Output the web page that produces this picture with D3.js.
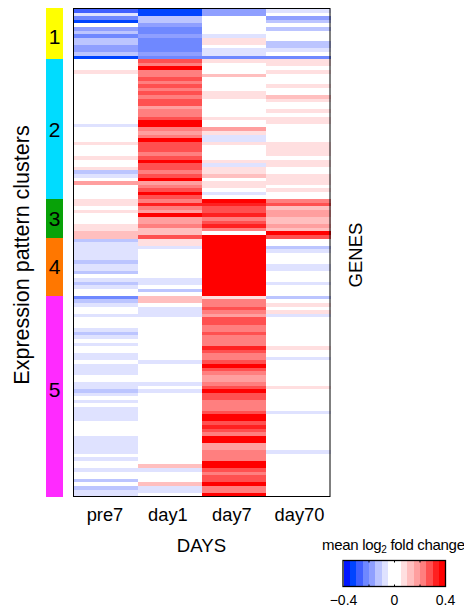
<!DOCTYPE html>
<html><head><meta charset="utf-8">
<script src="https://cdn.jsdelivr.net/npm/d3@7/dist/d3.min.js"></script>
<style>html,body{margin:0;padding:0;background:#fff}svg{display:block}text{font-family:"Liberation Sans",Arial,sans-serif;fill:#000}</style>
</head><body><svg id="c" width="464" height="609"></svg>
<script>
const days = ["pre7","day1","day7","day70"];
const clusterNames = ["1","2","3","4","5"];
const clusterSizes = [14,39,11,16,56];
const clusterColors = ["#ffff00","#00dcff","#08a208","#ff7700","#ff2aff"];
const legendColors = ["#0016ff","#0044ff","#4060ff","#6f88ff","#8f9fff","#bcc5ff","#dfe2ff","#ffffff","#ffffff","#ffdfe0","#ffbfbf","#ff9f9f","#ff7f7f","#ff5050","#ff2020","#ff0000"];
const legendTickLabels = [-0.4,0,0.4];
const legendInnerTicks = [-0.2,0,0.2];

const pre7 = [
-.28,-.08,-.23,-.33,0,-.18,-.13,-.23,-.13,-.13,-.18,-.18,-.13,-.33,
0,0,0,.08,0,0,0,0,0,0,0,0,0,0,0,0,0,0,-.08,0,0,0,0,.08,0,0,0,.08,0,0,.08,-.13,-.08,0,.18,0,0,0,0,
.08,.08,0,.08,0,0,0,.08,.08,.13,.13,
-.13,-.08,-.08,-.08,-.08,-.08,-.13,-.08,-.08,-.13,0,-.08,-.13,-.08,0,0,
-.23,-.13,-.08,0,0,-.08,0,0,0,-.08,-.13,-.08,0,-.08,0,0,-.08,-.08,0,-.08,-.08,-.08,0,0,-.08,-.08,-.13,-.08,0,-.08,0,-.08,-.08,-.08,-.08,0,0,0,0,-.08,-.08,-.08,-.08,-.08,0,-.08,0,0,-.08,0,0,-.13,0,-.13,-.08,-.08
];
const day1 = [
-.33,-.33,-.13,-.13,-.18,-.23,-.23,-.18,-.23,-.23,-.23,-.23,-.18,-.23,
.28,.23,.38,.23,.23,.28,.23,.28,.23,.28,.23,.28,.28,.18,.23,.23,.28,.38,.38,.23,.18,.23,.38,.28,.28,.28,.23,.28,.38,.28,.28,.23,.28,.38,.18,.23,.28,.38,.28,
.23,.33,.23,.18,.38,.18,.18,.23,.13,.13,.28,
.08,.08,-.08,0,0,0,0,0,0,0,0,-.08,-.08,0,-.13,0,
.13,.13,0,-.08,-.08,-.08,0,0,0,0,0,0,0,0,0,0,0,0,-.08,0,0,0,0,0,-.08,0,-.08,0,0,0,0,0,0,0,0,0,0,0,0,0,0,0,0,0,0,0,0,.13,-.08,0,0,0,.13,-.08,-.08,0
];
const day7 = [
-.18,-.18,0,0,0,0,0,-.08,.08,.08,0,-.08,-.08,-.23,
.08,0,0,0,.13,0,0,0,0,.08,.08,0,0,0,0,0,.08,0,0,.18,.08,-.08,-.08,.08,0,0,0,0,.08,-.08,.08,.08,.13,0,.08,.08,0,-.08,0,
.38,.33,.28,.28,.33,.23,.28,.33,.23,0,.38,
.38,.38,.38,.38,.38,.38,.38,.38,.38,.38,.38,.38,.38,.38,.38,.38,
.08,.23,.23,.28,.23,.18,.28,.28,.23,.23,.28,.23,.23,.23,.33,.28,.23,.23,.28,.38,.28,.23,.18,.18,.23,.28,.38,.28,.28,.23,.23,.23,.28,.38,.38,.28,.33,.28,.23,.38,.38,.18,.18,.23,.23,.23,.38,.38,.28,.23,.28,.28,.38,.23,.23,.38
];
const day70 = [
-.08,0,-.18,-.13,0,-.13,0,0,0,-.13,-.13,-.08,0,-.23,
.08,.08,0,.08,0,0,0,.08,0,0,.13,.08,0,0,.08,0,.08,.08,0,0,0,0,0,.08,.08,.08,.08,0,.08,.08,0,0,.08,.08,.08,0,.08,0,0,
.23,.28,.13,.18,.18,.13,.13,.18,.13,.38,.28,
0,0,-.13,-.08,0,0,0,-.08,-.08,0,0,0,-.08,0,0,0,
-.13,0,.08,0,.08,-.08,0,0,0,0,0,0,0,0,.08,0,0,-.08,0,0,0,0,0,0,0,.08,0,0,0,0,0,0,-.08,0,0,0,0,0,0,0,0,0,0,-.08,0,0,0,0,0,0,0,0,0,0,0,0
];
const series = [pre7,day1,day7,day70];

const svg = d3.select("#c");
const nRows = d3.sum(clusterSizes);
const x = d3.scaleBand().domain(days).range([73.7,330]);
const y = d3.scaleLinear().domain([0,nRows]).range([9,496.7]);
const color = d3.scaleQuantize().domain([-0.4,0.4]).range(legendColors);

// heat cells
const heat = svg.append("g").attr("shape-rendering","crispEdges");
series.forEach((vals,c)=>{
  heat.selectAll(null).data(vals).join("rect")
    .attr("x",x(days[c])).attr("width",x.bandwidth()+0.5)
    .attr("y",(d,i)=>y(i)).attr("height",(d,i)=>y(i+1)-y(i)+0.5)
    .attr("fill",d=>color(d));
});
// frame
svg.append("rect").attr("x",73.5).attr("y",8.5).attr("width",256.5).attr("height",488)
  .attr("fill","none").attr("stroke","#000").attr("stroke-width",1);

// cluster strip
let cum=0;
const strip = svg.append("g").attr("shape-rendering","crispEdges");
const stripY = d3.scaleLinear().domain([0,nRows]).range([8.6,497]);
const labelBaseline=[44,137,226,274,397];
clusterSizes.forEach((n,i)=>{
  const y0 = i===0 ? 8 : stripY(cum);
  strip.append("rect").attr("x",46).attr("width",17).attr("y",y0).attr("height",stripY(cum+n)-y0).attr("fill",clusterColors[i]);
  svg.append("text").attr("x",54.5).attr("y",labelBaseline[i]).attr("text-anchor","middle").attr("font-size",21).text(clusterNames[i]);
  cum+=n;
});

// axis labels
const dayLabelShift=[-0.8,-1.9,-2,1.5];
days.forEach((d,i)=>svg.append("text").attr("x",x(d)+x.bandwidth()/2+dayLabelShift[i]).attr("y",521).attr("text-anchor","middle").attr("font-size",18.3).text(d));
svg.append("text").attr("x",201.5).attr("y",551.5).attr("text-anchor","middle").attr("font-size",18.6).text("DAYS");
svg.append("text").attr("transform","translate(29,255) rotate(-90)").attr("text-anchor","middle").attr("font-size",21.5).text("Expression pattern clusters");
svg.append("text").attr("transform","translate(361.5,255) rotate(-90)").attr("text-anchor","middle").attr("font-size",18.5).text("GENES");

// legend
const lx = d3.scaleLinear().domain([-0.4,0.4]).range([343.5,445.5]);
const edges = [-0.4,...color.thresholds(),0.4];
const leg = svg.append("g");
leg.append("g").attr("shape-rendering","crispEdges").selectAll("rect").data(legendColors).join("rect")
  .attr("x",(d,i)=>lx(edges[i])).attr("y",561).attr("height",25)
  .attr("width",(d,i)=>lx(edges[i+1])-lx(edges[i])+0.5)
  .attr("fill",d=>d);
leg.append("rect").attr("x",lx(-0.4)-0.5).attr("y",560.5).attr("width",lx(0.4)-lx(-0.4)+0.5).attr("height",26)
  .attr("fill","none").attr("stroke","#000").attr("stroke-width",1.3);
legendInnerTicks.forEach(t=>{
  leg.append("line").attr("x1",lx(t)).attr("x2",lx(t)).attr("y1",560.5).attr("y2",562.5).attr("stroke","#000");
  leg.append("line").attr("x1",lx(t)).attr("x2",lx(t)).attr("y1",584.5).attr("y2",586.5).attr("stroke","#000");
});
legendTickLabels.forEach(t=>leg.append("text").attr("x",lx(t)).attr("y",605).attr("text-anchor","middle").attr("font-size",14)
  .text(t===0?"0":(t<0?"\u2212":"")+Math.abs(t)));
const title = leg.append("text").attr("x",322).attr("y",550).attr("font-size",15).attr("letter-spacing",-0.3);
title.append("tspan").text("mean log");
title.append("tspan").attr("dy",3).attr("font-size",10).text("2");
title.append("tspan").attr("dy",-3).text(" fold change");
</script></body></html>
